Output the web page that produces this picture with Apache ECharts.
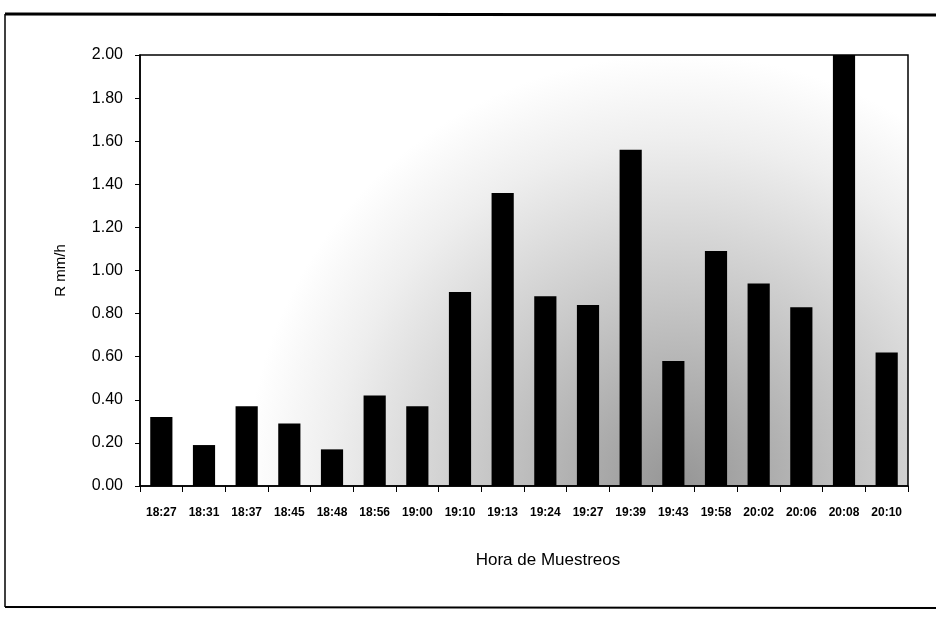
<!DOCTYPE html>
<html>
<head>
<meta charset="utf-8">
<script src="https://cdn.jsdelivr.net/npm/echarts@6/dist/echarts.min.js"></script>
<style>
  html, body { margin: 0; padding: 0; background: #fff; }
  #chart { width: 936px; height: 618px; }
</style>
</head>
<body>
<div id="chart"></div>
<script>
// horas de muestreo y intensidad de lluvia (mm/h)
const horas = ['18:27', '18:31', '18:37', '18:45', '18:48', '18:56', '19:00', '19:10', '19:13',
  '19:24', '19:27', '19:39', '19:43', '19:58', '20:02', '20:06', '20:08', '20:10'];
const intensidad = [0.32, 0.19, 0.37, 0.29, 0.17, 0.42, 0.37, 0.90, 1.36,
  0.88, 0.84, 1.56, 0.58, 1.09, 0.94, 0.83, 2.00, 0.62];

const sans = "'Liberation Sans', Arial, sans-serif";

var chart = echarts.init(document.getElementById('chart'));

var option = {
  backgroundColor: '#fff',
  animation: false,
  graphic: [
    // marco exterior
    { type: 'line', shape: { x1: 5, y1: 14, x2: 936, y2: 15 }, style: { stroke: '#000', lineWidth: 3 } },
    { type: 'line', shape: { x1: 5, y1: 14, x2: 5, y2: 607 }, style: { stroke: '#000', lineWidth: 1.5 } },
    { type: 'line', shape: { x1: 5, y1: 607, x2: 936, y2: 608 }, style: { stroke: '#000', lineWidth: 2 } }
  ],
  grid: {
    left: 140,
    right: 28,
    top: 55,
    bottom: 132,
    show: true,
    borderColor: '#000',
    borderWidth: 1.5,
    backgroundColor: new echarts.graphic.RadialGradient(0.7, 1.0, 1.0, [
      { offset: 0, color: '#959595' },
      { offset: 0.45, color: '#c8c8c8' },
      { offset: 0.8, color: '#eeeeee' },
      { offset: 1, color: '#ffffff' }
    ])
  },
  xAxis: {
    type: 'category',
    data: horas,
    name: 'Hora de Muestreos',
    nameLocation: 'middle',
    nameGap: 66,
    nameTextStyle: { fontFamily: sans, fontSize: 17, color: '#000', padding: [0, 0, 0, 48] },
    axisLine: { lineStyle: { color: '#000', width: 1.5 } },
    axisTick: { show: true, length: 6, lineStyle: { color: '#000' } },
    axisLabel: {
      interval: 0,
      margin: 21,
      fontFamily: sans,
      fontWeight: 'bold',
      fontSize: 12,
      color: '#000'
    }
  },
  yAxis: {
    type: 'value',
    min: 0,
    max: 2,
    interval: 0.2,
    name: 'R mm/h',
    nameLocation: 'middle',
    nameGap: 72,
    nameTextStyle: { fontFamily: sans, fontSize: 15, color: '#000' },
    axisLine: { show: true, lineStyle: { color: '#000', width: 1.5 } },
    axisTick: { show: true, length: 5, lineStyle: { color: '#000' } },
    splitLine: { show: false },
    axisLabel: {
      margin: 17,
      fontFamily: sans,
      fontSize: 16,
      color: '#000',
      formatter: function (v) { return v.toFixed(2); }
    }
  },
  series: [
    {
      type: 'bar',
      data: intensidad,
      barWidth: '52%',
      itemStyle: { color: '#000' }
    }
  ]
};

chart.setOption(option);
</script>
</body>
</html>
